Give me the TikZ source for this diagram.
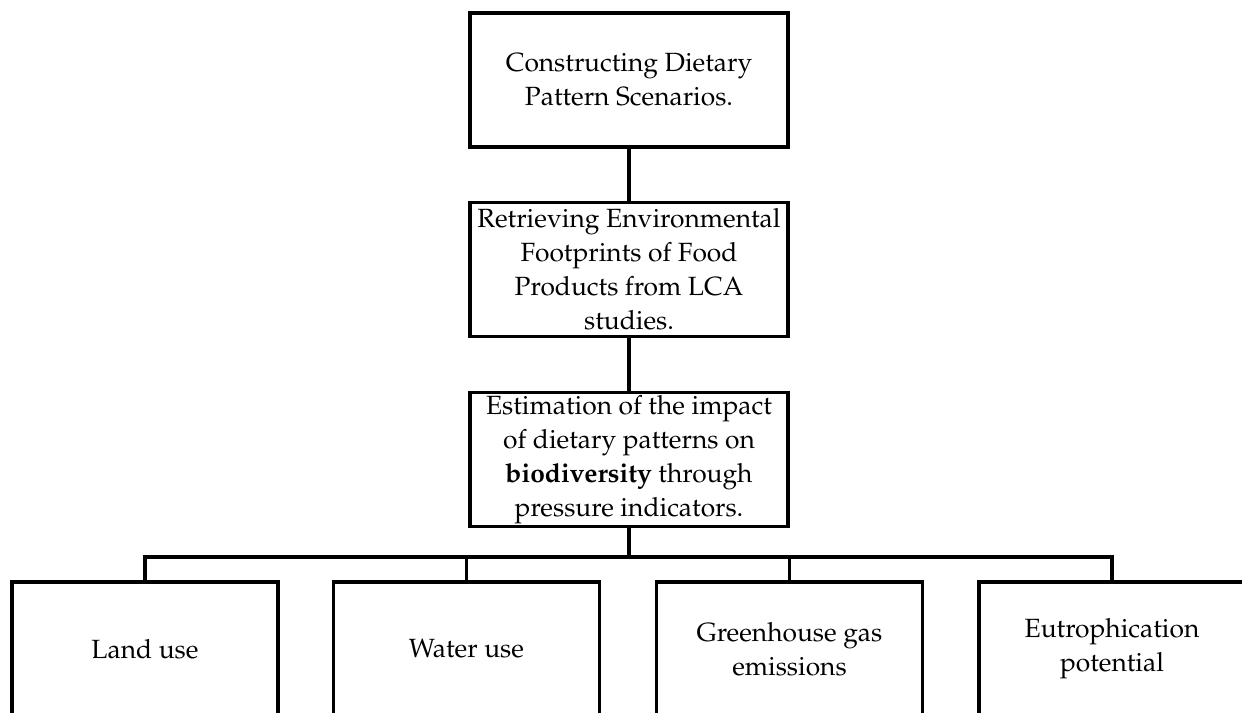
\documentclass[tikz,border=0pt]{standalone}
\usepackage[T1]{fontenc}
\usepackage{mathpazo}
\usepackage{tikz}
\usetikzlibrary{calc}
\usetikzlibrary{positioning}

\tikzset{
  stage/.style={draw,line width=2pt,minimum width=6.36cm,minimum height=2.68cm,
    align=center,inner sep=0pt,font=\fontsize{15}{19.3}\selectfont},
  leaf/.style={stage,minimum width=5.32cm},
  link/.style={line width=2pt}
}

\begin{document}
\begin{tikzpicture}
		  \useasboundingbox (0,0) rectangle (24.84,14.26);
		  % chain of steps
		  \node[stage] (scen) at (12.58,12.66) {Constructing Dietary\\Pattern Scenarios.};
		  \node[stage] (lca) at (12.58,8.87) {Retrieving Environmental\\Footprints of Food\\Products from LCA\\studies.};
		  \node[stage] (est) at (12.58,5.07) {Estimation of the impact\\of dietary patterns on\\\textbf{biodiversity} through\\pressure indicators.};
		  \draw[link] (scen) -- (lca);
		  \draw[link] (lca) -- (est);
		  \coordinate (bus) at ($(est.south)+(0,-0.58)$);
		  \draw[link] (est.south) -- (bus);
		  % pressure indicators
		  \foreach \x /\alph/\name in {
		  		2.90/land/Land use,
		  		9.33/water/Water use,
		  		15.79/ghg/Greenhouse gas\\emissions,
		  		22.24/eutro/Eutrophication\\potential
		  }{
		  	\node[leaf] (\alph) at (\x,1.28) {\name};
		  	\draw[link] (bus) -| (\alph.north);
		  }
		 \end{tikzpicture}
\end{document}
